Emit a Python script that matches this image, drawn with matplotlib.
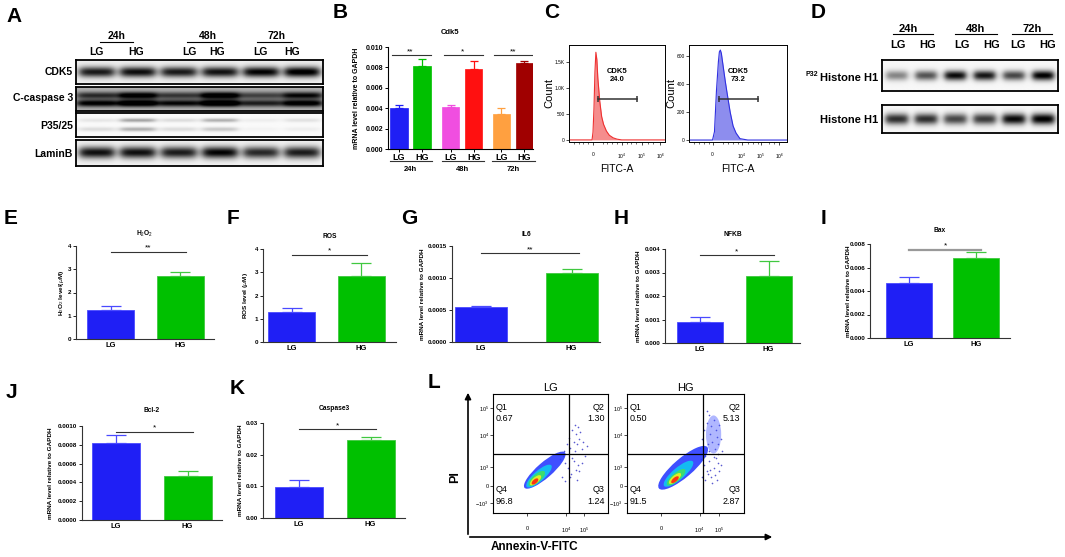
import numpy as np
import matplotlib
matplotlib.use('Agg')
import matplotlib.pyplot as plt
from matplotlib.patches import Ellipse
from matplotlib.transforms import blended_transform_factory

plt.rcParams['font.family'] = ['Liberation Sans', 'DejaVu Sans']
plt.rcParams['mathtext.fontset'] = 'custom'
plt.rcParams['mathtext.rm'] = 'Liberation Sans'
plt.rcParams['mathtext.bf'] = 'Liberation Sans:bold'

W, H = 1065, 557

# ---- A: western blot band strengths, lanes LG24 HG24 LG48 HG48 LG72 HG72
cdk5_band = [0.85, 0.9, 0.85, 0.88, 0.95, 1.0]
ccasp3_upper = [0.55, 0.8, 0.5, 0.85, 0.45, 0.7]
ccasp3_lower = [0.75, 0.9, 0.7, 0.95, 0.6, 0.8]
p35_band = [0.08, 0.35, 0.12, 0.3, 0.05, 0.1]
p25_band = [0.12, 0.3, 0.12, 0.2, 0.03, 0.05]
laminb_band = [0.9, 0.9, 0.85, 0.95, 0.8, 0.85]

# ---- B: Cdk5 mRNA
b_groups = ['24h', '48h', '72h']
b_labels = ['LG', 'HG', 'LG', 'HG', 'LG', 'HG']
b_pos = [0, 1, 2.25, 3.25, 4.45, 5.45]
b_vals = [0.0040, 0.0081, 0.0041, 0.0078, 0.0034, 0.0084]
b_errs = [0.0003, 0.0007, 0.0002, 0.0008, 0.0006, 0.0002]
b_colors = ['#1f1ff5', '#00c000', '#f04ee0', '#ff1010', '#ffa040', '#a00000']
b_sig = ['**', '*', '**']

# ---- C: flow histograms (channel scale 0-100)
c_lg_x = [0, 24, 25, 26, 27, 28, 29, 30, 32, 34, 36, 39, 42, 46, 50, 55, 100]
c_lg_count = [0, 0, 150, 600, 1300, 1690, 1550, 1200, 750, 450, 300, 170, 90, 40, 15, 0, 0]
c_hg_x = [0, 24, 26, 28, 30, 31, 32, 33, 35, 37, 39, 42, 45, 48, 52, 60, 100]
c_hg_count = [0, 0, 60, 350, 560, 630, 643, 620, 520, 420, 330, 200, 100, 50, 10, 0, 0]
c_pct = ['24.0', '73.2']

# ---- D: P32 histone H1 kinase assay
p32_band = [0.45, 0.65, 0.95, 0.9, 0.7, 1.0]
h1_band = [0.8, 0.8, 0.7, 0.75, 0.95, 1.0]

# ---- E-K: LG vs HG
groups = ['LG', 'HG']
h2o2_mean, h2o2_sem = [1.25, 2.72], [0.17, 0.15]
ros_mean, ros_sem = [1.30, 2.84], [0.16, 0.55]
il6_mean, il6_sem = [0.00055, 0.00108], [0.00001, 0.00006]
nfkb_mean, nfkb_sem = [0.00089, 0.00285], [0.00023, 0.00062]
bax_mean, bax_sem = [0.0047, 0.0068], [0.0005, 0.0005]
bcl2_mean, bcl2_sem = [0.00082, 0.00047], [0.00008, 0.00005]
casp3_mean, casp3_sem = [0.0098, 0.0246], [0.0023, 0.0010]

# ---- L: annexin/PI quadrants
l_lg_quad = ['0.67', '1.30', '96.8', '1.24']
l_hg_quad = ['0.50', '5.13', '91.5', '2.87']
# density layers (cx, cy, w, h) outer -> inner
l_lg_cloud = [(45, 36, 46, 13), (40, 31, 28, 9), (38, 29, 18, 7), (37, 27.5, 12, 5), (36.5, 26.5, 7, 3.5)]
l_hg_cloud = [(48, 38, 54, 16), (44, 33, 32, 10), (42, 30, 20, 7), (41, 29, 13, 5), (41, 28, 8, 3.5)]
l_lg_dots_x = [58, 62, 64, 66, 67, 69, 70, 71, 72, 73, 74, 75, 76, 77, 78, 80, 82, 63, 65, 68, 70, 72, 74, 60, 61, 63, 67, 69, 71, 73, 75, 77]
l_lg_dots_y = [45, 52, 58, 63, 55, 70, 60, 74, 66, 58, 72, 62, 68, 54, 60, 48, 56, 42, 38, 33, 44, 36, 40, 30, 48, 27, 30, 46, 52, 28, 35, 42]
l_hg_dots_x = [62, 64, 66, 67, 68, 69, 70, 71, 72, 73, 74, 75, 76, 77, 78, 79, 80, 81, 66, 68, 70, 72, 74, 76, 78, 64, 67, 69, 71, 73, 75, 77, 79, 63, 65, 70, 74, 78, 80, 68]
l_hg_dots_y = [55, 62, 70, 48, 76, 58, 82, 66, 73, 60, 78, 54, 70, 64, 58, 74, 62, 52, 40, 35, 44, 30, 38, 46, 42, 30, 28, 33, 36, 25, 32, 28, 35, 45, 50, 52, 47, 50, 40, 86]

fig = plt.figure(figsize=(W / 100, H / 100), dpi=100)


def rect(l, t, r, b):
    return [l / W, 1 - b / H, (r - l) / W, (b - t) / H]


def blot(l, t, r, b, bands, bg, half=0.42):
    ax = fig.add_axes(rect(l, t, r, b))
    X, Y = np.meshgrid(np.linspace(0, 6, 400), np.linspace(0, 1, 60))
    img = np.full_like(X, bg)
    for yc, sy, vals in bands:
        for i, v in enumerate(vals):
            hx = 1 / (1 + np.exp((np.abs(X - (i + 0.5)) - half) / 0.06))
            img += v * hx * np.exp(-((Y - yc) / sy) ** 2)
    ax.imshow(np.clip(img, 0, 1), cmap='gray_r', vmin=0, vmax=1, aspect='auto',
              extent=[0, 6, 1, 0], interpolation='bilinear')
    ax.set_xticks([])
    ax.set_yticks([])
    for s in ax.spines.values():
        s.set_linewidth(1.3)
    return ax


# ---------------- A
blot(76, 60, 323, 84, [(0.5, 0.22, cdk5_band)], 0.06)
blot(76, 87, 323, 111, [(0.35, 0.15, ccasp3_upper), (0.68, 0.15, ccasp3_lower)], 0.3, half=0.48)
blot(76, 113, 323, 137, [(0.3, 0.08, p35_band), (0.68, 0.09, p25_band)], 0.02)
blot(76, 140, 323, 166, [(0.5, 0.22, laminb_band)], 0.05)

# ---------------- D
blot(882, 60, 1058, 91, [(0.5, 0.16, p32_band)], 0.03, half=0.36)
blot(882, 105, 1058, 133, [(0.5, 0.2, h1_band)], 0.03, half=0.38)


# ---------------- B
axb = fig.add_axes(rect(388, 47, 533, 149))
for i in range(6):
    axb.bar(b_pos[i], b_vals[i], width=0.76, color=b_colors[i], edgecolor=b_colors[i], lw=0.5)
    axb.errorbar(b_pos[i], b_vals[i], yerr=[[0], [b_errs[i]]], fmt='none',
                 ecolor=b_colors[i], elinewidth=0.9, capsize=3, capthick=0.9)
axb.set_xlim(-0.48, 5.83)
axb.set_ylim(0, 0.010)
axb.set_yticks(np.arange(0, 0.0101, 0.002))
axb.set_yticklabels(['%.3f' % v for v in np.arange(0, 0.0101, 0.002)], fontweight='bold')
axb.set_xticks(b_pos)
axb.set_xticklabels(b_labels, fontweight='bold', fontsize=6.5)
for s in ['top', 'right']:
    axb.spines[s].set_visible(False)
axb.tick_params(axis='y', labelsize=5, length=2.5, width=0.7, pad=1)
axb.tick_params(axis='x', length=2, width=0.7, pad=1)
tb = blended_transform_factory(axb.transData, axb.transAxes)
for g in range(3):
    x0, x1 = b_pos[2 * g], b_pos[2 * g + 1]
    axb.plot([x0 - 0.4, x1 + 0.45], [-0.12, -0.12], color='#333333', lw=0.8,
             transform=tb, clip_on=False)
    axb.text((x0 + x1) / 2, -0.17, b_groups[g], transform=tb, ha='center', va='top',
             fontsize=5.5, fontweight='bold')
    axb.plot([x0 - 0.3, x1 + 0.4], [0.0092, 0.0092], color='#333333', lw=0.8)
    axb.text((x0 + x1) / 2, 0.0092, b_sig[g], ha='center', va='bottom', fontsize=6)


# ---------------- C
def histo(l, r, xs, ys, col, ylim, yt, ytl, xt, gate_x, gate_y, pct):
    ax = fig.add_axes(rect(l, 45, r, 142))
    ax.fill_between(xs, ys, color=col, alpha=0.55, lw=0)
    ax.plot(xs, ys, color=col, lw=0.8)
    ax.plot(gate_x, [gate_y, gate_y], color='#333333', lw=1.1, marker='|', ms=5, mew=1.1)
    tr = blended_transform_factory(ax.transData, ax.transAxes)
    ax.text(50, 0.73, 'CDK5', transform=tr, ha='center', va='center', fontsize=5.5, fontweight='bold')
    ax.text(50, 0.64, pct, transform=tr, ha='center', va='center', fontsize=5.5, fontweight='bold')
    ax.set_xlim(0, 100)
    ax.set_ylim(*ylim)
    ax.set_yticks(yt)
    ax.set_yticklabels(ytl)
    ax.set_xticks(xt)
    ax.set_xticklabels(['0', r'$10^4$', r'$10^5$', r'$10^6$'])
    ax.set_xticks([5, 10, 15, 20, 35, 40, 45, 50, 60, 65, 70, 82, 87], minor=True)
    ax.tick_params(labelsize=3.5, length=2, width=0.5, pad=1)
    ax.tick_params(axis='x', pad=5)
    ax.tick_params(which='minor', length=1.2, width=0.4)
    for s in ax.spines.values():
        s.set_linewidth(0.7)
    ax.set_ylabel('Count', fontsize=8, labelpad=0)
    ax.set_xlabel('FITC-A', fontsize=7.5, labelpad=2)
    return ax


histo(569, 665, c_lg_x, c_lg_count, '#ee3030', (-40, 1830), [0, 500, 1000, 1500],
      ['0', '500', '1.0K', '1.5K'], [25, 55, 76, 95], [30, 71], 790, c_pct[0])
histo(689, 787, c_hg_x, c_hg_count, '#3030e0', (-14, 679), [0, 200, 400, 600],
      ['0', '200', '400', '600'], [24, 54, 73, 92], [31, 70], 293, c_pct[1])


# ---------------- E-K
def two_bar(l, t, r, b, c0, c1, means, sems, top, yt, fmt, sig_y, stars, title, title_y,
            ylabel, ylabel_x, bw, sig_col='#333333', sig_lw=0.8):
    ax = fig.add_axes(rect(l, t, r, b))
    sp = c1 - c0
    cols = ['#1f1ff5', '#00c000']
    ecols = ['#4a4aff', '#40c840']
    for i in range(2):
        ax.bar(i, means[i], width=bw / sp, color=cols[i], edgecolor=ecols[i], lw=0.6)
        ax.errorbar(i, means[i], yerr=[[0], [sems[i]]], fmt='none', ecolor=ecols[i],
                    elinewidth=0.9, capsize=7, capthick=0.9)
    ax.set_xlim(-(c0 - l) / sp, 1 + (r - c1) / sp)
    ax.set_ylim(0, top)
    ax.set_yticks(yt)
    ax.set_yticklabels([fmt % v for v in yt], fontweight='bold')
    ax.set_xticks([0, 1])
    ax.set_xticklabels(groups, fontweight='bold', fontsize=5.5)
    for s in ['top', 'right']:
        ax.spines[s].set_visible(False)
    for s in ['left', 'bottom']:
        ax.spines[s].set_linewidth(0.8)
        ax.spines[s].set_color('#333333')
    ax.tick_params(axis='y', labelsize=4.5, length=2.5, width=0.6, pad=1)
    ax.tick_params(axis='x', length=0, pad=2)
    ax.plot([0, 1.08], [sig_y, sig_y], color=sig_col, lw=sig_lw, clip_on=False)
    ax.text(0.54, sig_y, stars, ha='center', va='bottom', fontsize=6)
    fig.text(((l + r) / 2) / W, 1 - title_y / H, title, ha='center', va='center',
             fontsize=4.8, fontweight='bold')
    fig.text(ylabel_x / W, 1 - ((t + b) / 2) / H, ylabel, ha='center', va='center',
             rotation=90, fontsize=4.6, fontweight='bold')
    return ax


two_bar(76, 246, 214, 339, 110.5, 180, h2o2_mean, h2o2_sem, 4, [0, 1, 2, 3, 4], '%d', 3.75, '**',
        r'H$_2$O$_2$', 234, r'H$_2$O$_2$ level($\mu$M)', 62, 47)
two_bar(263, 249, 396, 342, 291.5, 361, ros_mean, ros_sem, 4, [0, 1, 2, 3, 4], '%d', 3.75, '*',
        'ROS', 236, r'ROS level ($\mu$M)', 245, 47)
two_bar(452, 246, 600, 342, 481, 571.5, il6_mean, il6_sem, 0.0015, [0, 0.0005, 0.0010, 0.0015],
        '%.4f', 0.00139, '**', 'IL6', 234, 'mRNA level relative to GAPDH', 422, 52)
two_bar(665, 249, 800, 343, 700, 768.5, nfkb_mean, nfkb_sem, 0.004, [0, 0.001, 0.002, 0.003, 0.004],
        '%.3f', 0.00374, '*', 'NFKB', 235, 'mRNA level relative to GAPDH', 638, 46)
two_bar(870, 244, 1010, 338, 909, 976, bax_mean, bax_sem, 0.008, [0, 0.002, 0.004, 0.006, 0.008],
        '%.3f', 0.0075, '*', 'Bax', 230, 'mRNA level relative to GAPDH', 848, 46,
        sig_col='#999999', sig_lw=1.6)
two_bar(82, 426, 222, 520, 116, 187.5, bcl2_mean, bcl2_sem, 0.0010,
        [0, 0.0002, 0.0004, 0.0006, 0.0008, 0.0010], '%.4f', 0.00094, '*', 'Bcl-2', 410,
        'mRNA level relative to GAPDH', 50, 48)
two_bar(263, 423, 405, 518, 299, 370.5, casp3_mean, casp3_sem, 0.03, [0, 0.01, 0.02, 0.03],
        '%.2f', 0.0281, '*', 'Caspase3', 409, 'mRNA level relative to GAPDH', 240, 48)

# ---------------- L
cloud_cols = ['#2a3cff', '#10c8f0', '#40e060', '#f0f020', '#ff2010']


def facs(l, r, cloud, dots_x, dots_y, quad, name, gate_x, xt, extra=None):
    ax = fig.add_axes(rect(l, 394, r, 513))
    ax.scatter(dots_x, dots_y, s=1.4, color='#5a5ad0', lw=0)
    if extra is not None:
        ax.add_patch(Ellipse(extra[:2], extra[2], extra[3], color='#3a4cff', alpha=0.4, lw=0))
    for (cx, cy, w, h), c in zip(cloud, cloud_cols):
        ax.add_patch(Ellipse((cx, cy), w, h, angle=40, color=c, lw=0, alpha=0.9))
    ax.axvline(gate_x, color='black', lw=0.9)
    ax.axhline(49.6, color='black', lw=0.9)
    ax.set_xlim(0, 100)
    ax.set_ylim(0, 100)
    kw = dict(fontsize=6.5, va='center')
    ax.text(2, 89, 'Q1', ha='left', **kw)
    ax.text(2, 79, quad[0], ha='left', **kw)
    ax.text(97, 89, 'Q2', ha='right', **kw)
    ax.text(97, 79, quad[1], ha='right', **kw)
    ax.text(2, 20, 'Q4', ha='left', **kw)
    ax.text(2, 10, quad[2], ha='left', **kw)
    ax.text(97, 20, 'Q3', ha='right', **kw)
    ax.text(97, 10, quad[3], ha='right', **kw)
    ax.set_yticks([8.4, 22.7, 38.7, 65.5, 88])
    ax.set_yticklabels([r'$-10^3$', '0', r'$10^3$', r'$10^4$', r'$10^5$'])
    ax.set_xticks(xt)
    ax.set_xticklabels(['0', r'$10^4$', r'$10^5$'])
    ax.tick_params(labelsize=4, length=2, width=0.5, pad=1)
    ax.tick_params(axis='x', pad=7)
    for s in ax.spines.values():
        s.set_linewidth(0.8)
    ax.set_title(name, fontsize=8, pad=2)


facs(493, 608, l_lg_cloud, l_lg_dots_x, l_lg_dots_y, l_lg_quad, 'LG', 66, [29.6, 63.5, 79])
facs(627, 744, l_hg_cloud, l_hg_dots_x, l_hg_dots_y, l_hg_quad, 'HG', 65, [29, 62, 79],
     extra=(74, 66, 13, 32))

# ---------------- overlay texts
ov = fig.add_axes([0, 0, 1, 1], facecolor='none')
ov.set_xlim(0, W)
ov.set_ylim(H, 0)
ov.axis('off')

for lab, x, y in [('A', 14, 16), ('B', 340, 13), ('C', 552, 13), ('D', 818, 13),
                  ('E', 11, 218), ('F', 233, 218), ('G', 409, 218), ('H', 621, 218),
                  ('I', 823, 218), ('J', 11, 393), ('K', 237, 388), ('L', 434, 383)]:
    ov.text(x, y, lab, fontsize=15, fontweight='bold', ha='center', va='center')

bold = dict(fontweight='bold', va='center')
# A header
for txt, x, x0, x1 in [('24h', 117, 100, 133), ('48h', 208, 187, 222), ('72h', 277, 257, 292)]:
    ov.text(x, 36, txt, ha='center', fontsize=7.5, **bold)
    ov.plot([x0, x1], [42, 42], color='black', lw=0.8)
for txt, x in zip(['LG', 'HG'] * 3, [96, 136, 189, 217, 260, 292]):
    ov.text(x, 52, txt, ha='center', fontsize=7.5, **bold)
for txt, y in [('CDK5', 72), ('C-caspase 3', 98), ('P35/25', 126), ('LaminB', 154)]:
    ov.text(73, y, txt, ha='right', fontsize=7.5, **bold)

# B labels
ov.text(450, 33, 'Cdk5', ha='center', fontsize=5.5, **bold)
ov.text(356, 98, 'mRNA level relative to GAPDH', ha='center', rotation=90, fontsize=5, **bold)

# D header
for txt, x, x0, x1 in [('24h', 908, 893, 933), ('48h', 976, 955, 997), ('72h', 1032, 1012, 1052)]:
    ov.text(x, 29, txt, ha='center', fontsize=8, **bold)
    ov.plot([x0, x1], [34, 34], color='black', lw=0.8)
for txt, x in zip(['LG', 'HG'] * 3, [898, 928, 962, 992, 1018, 1048]):
    ov.text(x, 45, txt, ha='center', fontsize=8, **bold)
ov.text(878, 78, 'Histone H1', ha='right', fontsize=8, **bold)
ov.text(812, 75, 'P32', ha='center', fontsize=5, **bold)
ov.text(878, 120, 'Histone H1', ha='right', fontsize=8, **bold)

# L axes arrows
ov.annotate('', xy=(468, 390), xytext=(468, 537),
            arrowprops=dict(arrowstyle='-|>', lw=1.2, color='black', mutation_scale=9))
ov.annotate('', xy=(775, 537), xytext=(467, 537),
            arrowprops=dict(arrowstyle='-|>', lw=1.2, color='black', mutation_scale=9))
ov.text(455, 477, 'PI', rotation=90, ha='center', fontsize=9, **bold)
ov.text(535, 547, 'Annexin-V-FITC', ha='center', fontsize=8.5, **bold)

fig.savefig('out.png', dpi=100)
